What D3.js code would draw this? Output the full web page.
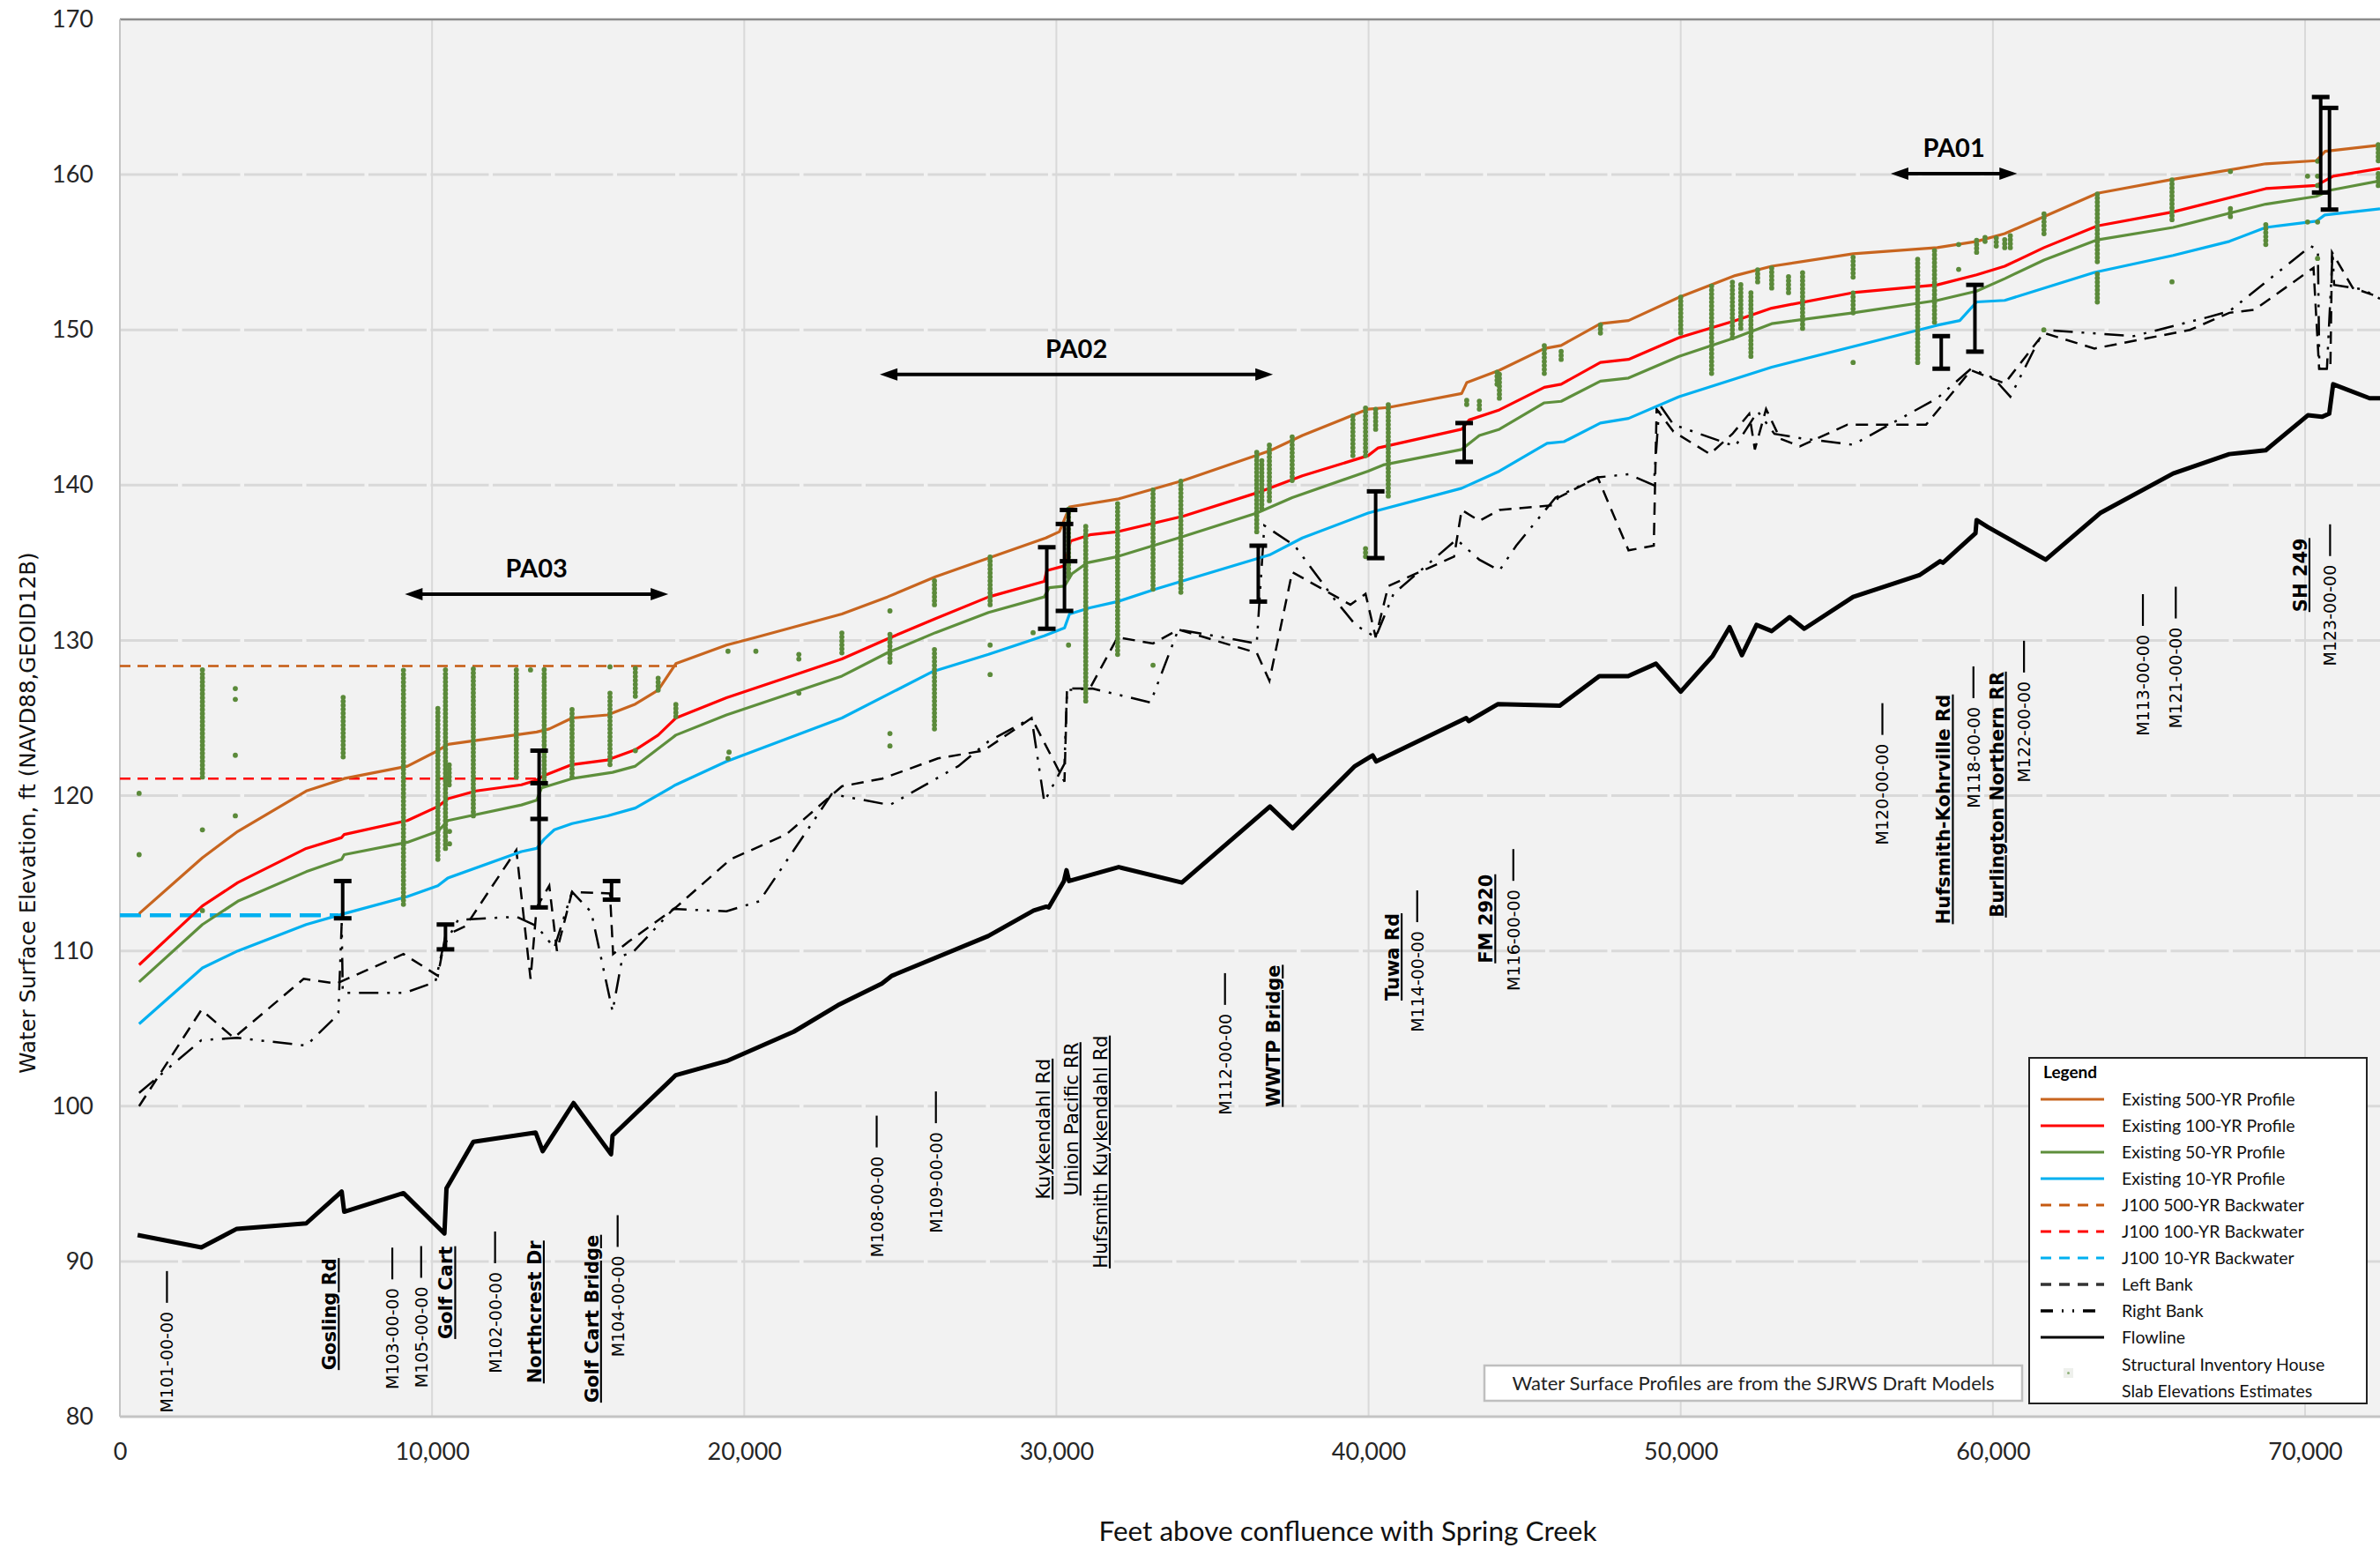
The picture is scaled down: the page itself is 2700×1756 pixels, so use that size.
<!DOCTYPE html>
<html>
<head>
<meta charset="utf-8">
<script src="https://cdn.jsdelivr.net/npm/d3@7"></script>
<style>
  body { margin: 0; background: #fff; }
  svg { display: block; }
</style>
</head>
<body>
<svg id="chart"></svg>
<script>
// water surface profiles: [feet, elevation]
const profile500 = [[616,112.4],[2644,116.0],[3779,117.7],[5969,120.3],[7186,121.1],[9213,121.9],[10186,122.9],[10511,123.3],[13349,124.1],[13755,124.3],[14485,125.0],[15620,125.2],[16512,125.9],[17243,126.8],[17810,128.5],[19432,129.7],[20373,130.2],[23128,131.7],[24587,132.8],[26126,134.1],[27828,135.3],[29660,136.6],[30097,137.0],[30421,138.6],[31961,139.1],[34068,140.3],[36823,142.2],[37877,143.2],[39984,144.9],[40632,145.0],[42982,145.9],[43144,146.6],[44191,147.4],[45630,148.8],[46169,149.0],[47428,150.4],[48327,150.6],[49946,152.1],[51745,153.5],[52914,154.1],[55522,154.9],[58219,155.3],[59478,155.7],[60378,156.2],[61637,157.3],[63345,158.8],[65773,159.7],[68741,160.7],[70360,160.9],[70645,161.5],[72400,161.9]];
const profile100 = [[616,109.1],[2644,112.9],[3779,114.4],[5969,116.6],[7105,117.3],[7186,117.5],[9213,118.4],[10186,119.3],[10511,119.8],[11403,120.3],[12863,120.7],[13349,121.0],[13593,121.3],[14485,122.0],[15620,122.3],[16512,122.95],[17243,123.9],[17810,125.0],[19432,126.3],[23128,128.8],[24587,130.1],[26126,131.4],[27828,132.8],[29611,133.8],[29692,134.5],[30259,134.8],[30454,136.4],[31070,136.8],[31961,137.0],[34068,138.0],[36418,139.5],[37877,140.6],[39984,141.9],[40308,142.4],[42982,143.6],[43225,144.2],[44191,144.85],[45630,146.3],[46169,146.5],[47428,147.9],[48327,148.1],[49946,149.5],[51745,150.6],[52914,151.4],[55522,152.4],[58219,152.9],[59478,153.55],[60378,154.1],[61637,155.3],[63345,156.7],[65773,157.6],[68741,159.1],[70360,159.3],[70899,159.9],[72400,160.4]];
const profile50 = [[616,108.0],[2644,111.7],[3779,113.2],[5969,115.1],[7105,115.9],[7186,116.2],[9213,117.0],[10186,117.7],[10511,118.4],[12863,119.4],[13349,119.7],[13511,120.5],[14485,121.1],[15782,121.5],[16512,121.9],[17810,123.9],[19432,125.2],[23128,127.7],[24587,129.2],[26126,130.5],[27828,131.8],[29611,132.8],[29773,133.4],[30259,133.5],[30502,134.3],[30989,135.0],[31961,135.4],[34068,136.7],[36418,138.2],[37553,139.2],[39984,140.9],[40470,141.3],[42982,142.3],[43549,143.2],[44191,143.6],[45630,145.3],[46169,145.4],[47428,146.7],[48327,146.9],[49946,148.3],[51745,149.5],[52914,150.4],[55522,151.1],[58219,151.9],[59478,152.5],[60378,153.3],[61637,154.5],[63345,155.8],[65773,156.6],[68741,158.1],[70360,158.6],[70809,159.0],[72400,159.6]];
const profile10 = [[616,105.3],[2644,108.9],[3779,110.0],[5969,111.7],[7186,112.4],[9213,113.5],[10186,114.2],[10511,114.7],[12863,116.4],[13349,116.6],[13593,117.2],[13917,117.8],[14485,118.2],[15620,118.7],[16512,119.2],[17810,120.7],[19432,122.2],[23128,125.0],[26045,128.0],[27828,129.1],[29611,130.3],[30259,130.8],[30421,131.7],[31070,132.1],[31961,132.5],[33177,133.3],[36823,135.5],[37877,136.6],[39984,138.2],[42982,139.8],[44191,140.9],[45720,142.7],[46259,142.8],[47428,144.0],[48327,144.3],[49946,145.7],[52914,147.6],[58219,150.3],[58939,150.6],[59478,151.8],[60378,151.9],[63255,153.7],[65773,154.8],[67572,155.7],[68741,156.6],[70360,157.0],[70630,157.4],[72400,157.8]];

// J100 backwater: [start ft, end ft, elevation]
const backwater500 = [0, 17900, 128.35];
const backwater100 = [0, 13511, 121.1];
const backwater10 = [0, 7000, 112.3];

const leftBank = [[616,100.0],[2611,106.2],[3650,104.4],[5888,108.2],[6943,107.9],[9084,109.8],[10186,108.4],[10430,111.0],[11079,111.6],[12700,116.5],[13155,108.2],[13350,112.8],[13755,114.2],[14000,110.0],[14485,113.8],[15700,113.7],[15800,109.8],[16300,110.6],[17810,112.8],[19562,115.9],[21345,117.5],[23128,120.6],[24425,121.1],[26207,122.4],[27666,122.9],[29206,125.0],[30259,120.9],[30340,126.9],[31070,126.9],[31961,130.2],[33096,129.8],[33906,130.7],[36418,129.2],[36823,127.4],[37553,134.4],[39417,132.3],[39903,133.0],[40227,130.2],[40632,133.5],[42739,135.4],[42982,138.4],[43549,137.7],[44191,138.4],[45899,138.7],[46079,139.2],[47338,140.5],[48327,135.8],[49137,136.1],[49227,144.9],[49766,143.45],[50935,142.0],[51655,143.3],[52194,144.6],[52374,142.3],[52734,144.9],[53183,143.0],[53813,142.5],[55342,143.9],[57860,143.9],[59299,147.4],[60378,146.55],[61637,149.8],[63255,148.8],[66313,150.0],[67572,151.1],[68381,151.3],[70270,154.0],[70450,147.5],[70810,147.5],[70863,155.0],[71529,152.7],[72400,152.1]];
const rightBank = [[616,100.85],[2611,104.25],[3747,104.4],[5969,103.9],[6861,105.65],[7000,106.0],[7105,111.8],[7140,107.3],[9130,107.3],[10105,108.0],[10349,110.2],[10835,112.0],[12700,112.2],[13349,111.6],[13917,110.2],[14485,113.8],[15100,112.5],[15782,106.1],[16107,109.7],[16430,109.9],[17730,112.7],[19432,112.55],[20487,113.2],[22800,120.1],[24668,119.4],[26856,121.9],[27828,123.5],[29206,125.0],[29611,119.6],[30259,122.05],[30340,126.8],[31151,126.9],[33015,126.0],[33906,130.7],[36418,129.8],[36661,137.4],[37634,136.1],[38850,132.8],[39579,131.0],[40227,130.2],[40800,133.0],[42820,136.5],[43549,135.2],[44191,134.5],[44730,136.1],[45989,139.2],[47338,140.5],[48327,140.7],[49137,140.0],[49317,145.2],[49766,143.9],[51745,142.5],[52464,144.75],[53003,143.3],[53903,143.0],[55522,142.6],[58219,145.6],[59299,147.5],[60018,146.9],[60558,145.7],[61637,150.0],[64514,149.6],[66853,150.8],[67572,151.2],[70180,155.4],[70410,155.15],[70458,147.5],[70700,147.5],[70882,155.0],[70930,152.9],[71870,152.6],[72400,152.0]];
const flowline = [[568,91.7],[2611,90.9],[3747,92.1],[5969,92.45],[7105,94.5],[7186,93.2],[9084,94.4],[10397,91.8],[10462,94.7],[11322,97.7],[13317,98.3],[13544,97.1],[14533,100.2],[15734,96.9],[15782,98.1],[17810,102.0],[19432,102.9],[21590,104.8],[23000,106.5],[24408,107.9],[24733,108.4],[27812,110.95],[29271,112.6],[29676,112.85],[29757,112.8],[30243,114.5],[30324,115.2],[30405,114.5],[31994,115.4],[34019,114.4],[36840,119.3],[37569,117.9],[39562,121.9],[40130,122.6],[40243,122.2],[43128,125.0],[43209,124.8],[44149,125.9],[46126,125.8],[47391,127.7],[48314,127.7],[49206,128.5],[50000,126.7],[51025,129.0],[51565,130.85],[51960,129.05],[52428,131.0],[52914,130.6],[53489,131.5],[53957,130.75],[55522,132.8],[57644,134.2],[58309,135.1],[58399,135.0],[59442,136.9],[59478,137.75],[59838,137.3],[61691,135.2],[63435,138.2],[65773,140.75],[67572,142.0],[68741,142.25],[70090,144.5],[70540,144.4],[70773,144.6],[70899,146.5],[72068,145.6],[72400,145.6]];

// structural inventory slab elevations: stacked columns [ft, low, high] and single points [ft, elev]
const houseStacks = [[2644,121.2,128.3],[7153,122.5,126.4],[9084,113.0,128.3],[10186,115.9,125.8],[10430,116.6,128.3],[10550,120.7,122.0],[11322,118.7,128.3],[12700,121.2,128.3],[13593,120.7,128.2],[14485,121.2,125.7],[15700,122.0,126.6],[16512,126.4,128.3],[17243,126.8,127.6],[17810,125.1,126.1],[23128,129.2,130.5],[24668,128.6,130.4],[26094,132.3,133.9],[26094,124.3,129.5],[27877,132.3,135.6],[30389,134.1,138.5],[30940,126.1,137.5],[31961,129.1,139.0],[33096,133.3,139.8],[33987,133.1,140.3],[36418,137.0,142.2],[36580,138.5,141.8],[36823,139.0,142.6],[37553,140.3,143.2],[39498,141.9,144.5],[39903,141.9,145.0],[39903,135.4,136.1],[40227,143.6,145.0],[40632,139.3,145.2],[43144,145.2,145.5],[43549,144.9,145.5],[44116,146.5,147.3],[44191,145.6,147.2],[45630,147.2,149.0],[46169,148.1,148.8],[47428,149.8,150.5],[50000,149.8,152.2],[50989,147.2,152.9],[51655,149.5,153.2],[51924,150.1,153.1],[52248,148.3,152.4],[52464,153.1,153.9],[52914,152.7,154.0],[53453,152.4,153.5],[53903,150.1,153.9],[55522,153.4,154.7],[55522,151.1,152.4],[57590,147.9,154.7],[58129,150.5,155.3],[59478,155.0,156.0],[59748,155.7,156.0],[60108,155.4,156.0],[60378,155.3,155.9],[60558,155.3,156.1],[61637,156.2,157.5],[63345,154.4,158.9],[63345,151.8,153.7],[65737,157.1,159.7],[67608,157.3,157.9],[68741,155.5,156.8],[72345,160.9,162.0],[72345,159.3,160.3]];
const housePoints = [[616,120.15],[616,116.2],[2644,117.8],[2644,112.6],[3698,126.9],[3698,126.2],[3698,122.6],[3698,118.7],[10560,117.7],[10560,116.9],[13155,128.1],[15700,128.3],[16512,122.9],[19481,129.3],[20373,129.3],[19481,122.4],[19514,122.8],[21750,129.1],[21750,128.8],[21750,126.6],[24668,131.9],[24668,124.0],[24668,123.2],[27877,129.7],[27877,127.8],[29254,130.5],[30389,129.7],[33096,128.4],[55522,147.9],[58903,155.5],[58903,153.9],[61632,150.0],[65737,153.1],[67608,160.2],[70080,159.9],[70080,156.95],[70400,160.87],[70400,159.9],[70400,159.3],[70400,156.95],[70400,154.6]];

// bridge openings: [ft, low chord, high chord]
const bridgeBars = [[7137,112.1,114.5],[10430,110.1,111.7],[13430,118.5,122.9],[13430,112.8,120.8],[15750,113.3,114.5],[29692,130.75,136.0],[30259,131.9,137.5],[30390,135.1,138.4],[36467,132.5,136.1],[40227,135.3,139.6],[43063,141.5,144.0],[58345,147.5,149.6],[59424,148.6,152.9],[70500,158.85,165.0],[70782,157.75,164.3]];

// project areas: [name, start ft, end ft, elevation]
const projectAreas = [["PA03",9132,17567,132.98],["PA02",24344,36937,147.13],["PA01",56727,60773,160.07]];

// cross section ids: [name, ft, elevation at text start]
const sectionLabels = [["M101-00-00",1508,80.25],["M103-00-00",8727,81.76],["M105-00-00",9651,81.86],["M102-00-00",12019,82.8],["M104-00-00",15945,83.85],["M108-00-00",24243,90.26],["M109-00-00",26140,91.82],["M112-00-00",35401,99.44],["M114-00-00",41558,104.77],["M116-00-00",44637,107.43],["M120-00-00",56460,116.83],["M118-00-00",59376,119.2],["M122-00-00",60996,120.85],["M113-00-00",64805,123.85],["M121-00-00",65858,124.33],["M123-00-00",70801,128.35]];
// crossings: [name, ft, elevation at text start, bold]
const crossingLabels = [["Gosling Rd",6700,83.0,true],["Golf Cart",10430,85.0,true],["Northcrest Dr",13268,82.14,true],["Golf Cart Bridge",15101,80.9,true],["Kuykendahl Rd",29566,93.99,false],["Union Pacific RR",30458,94.24,false],["Hufsmith Kuykendahl Rd",31398,89.55,false],["WWTP Bridge",36939,99.95,true],["Tuwa Rd",40748,106.8,true],["FM 2920",43747,109.2,true],["Hufsmith-Kohrville Rd",58405,111.72,true],["Burlington Northern RR",60104,112.15,true],["SH 249",69828,131.83,true]];

const xTicks = [0,10000,20000,30000,40000,50000,60000,70000];
const yTicks = [80,90,100,110,120,130,140,150,160,170];
const legendNames = ["Existing 500-YR Profile","Existing 100-YR Profile","Existing 50-YR Profile","Existing 10-YR Profile","J100 500-YR Backwater","J100 100-YR Backwater","J100 10-YR Backwater","Left Bank","Right Bank","Flowline"];

const W = 2700, H = 1756;
const plot = { left: 136, right: 2700, top: 22, bottom: 1607 };

const svg = d3.select("#chart").attr("width", W).attr("height", H)
  .style("font-family", "Lato, 'DejaVu Sans', sans-serif");

const x = d3.scaleLinear().domain([0, 72400]).range([plot.left, plot.right]);
const y = d3.scaleLinear().domain([80, 170]).range([plot.bottom, plot.top]);

svg.append("rect").attr("width", W).attr("height", H).attr("fill", "#fff");
svg.append("rect")
  .attr("x", plot.left).attr("y", plot.top)
  .attr("width", plot.right - plot.left).attr("height", plot.bottom - plot.top)
  .attr("fill", "#f2f2f2");

svg.append("defs").append("clipPath").attr("id", "clip")
  .append("rect")
  .attr("x", plot.left).attr("y", plot.top)
  .attr("width", plot.right - plot.left).attr("height", plot.bottom - plot.top);

// grid
const grid = svg.append("g");
grid.selectAll(".hg").data(yTicks.filter(d => d > 80 && d < 170)).enter()
  .append("line")
  .attr("x1", plot.left).attr("x2", plot.right)
  .attr("y1", d => y(d)).attr("y2", d => y(d))
  .attr("stroke", "#d9d9d9").attr("stroke-width", 3)
  .attr("stroke-dasharray", "66,4.5");
grid.selectAll(".vg").data(xTicks.filter(d => d > 0)).enter()
  .append("line")
  .attr("x1", d => x(d)).attr("x2", d => x(d))
  .attr("y1", plot.top).attr("y2", plot.bottom)
  .attr("stroke", "#d9d9d9").attr("stroke-width", 2);

// frame
svg.append("line").attr("x1", plot.left).attr("x2", plot.right)
  .attr("y1", plot.top).attr("y2", plot.top).attr("stroke", "#8c8c8c").attr("stroke-width", 2.5);
svg.append("line").attr("x1", plot.left).attr("x2", plot.left)
  .attr("y1", plot.top).attr("y2", plot.bottom).attr("stroke", "#c4c4c4").attr("stroke-width", 2);
svg.append("line").attr("x1", plot.left).attr("x2", plot.right)
  .attr("y1", plot.bottom).attr("y2", plot.bottom).attr("stroke", "#c4c4c4").attr("stroke-width", 3);

// axes
const yAxis = d3.axisLeft(y).tickValues(yTicks).tickSize(0).tickPadding(0);
svg.append("g").attr("transform", `translate(${plot.left - 30},0)`).call(yAxis)
  .call(g => g.select(".domain").remove())
  .selectAll("text").attr("font-size", 27).attr("fill", "#262626")
  .attr("font-family", "Lato, sans-serif");

const xAxis = d3.axisBottom(x).tickValues(xTicks).tickSize(0).tickPadding(0).tickFormat(d3.format(","));
svg.append("g").attr("transform", `translate(0,${plot.bottom + 30})`).call(xAxis)
  .call(g => g.select(".domain").remove())
  .selectAll("text").attr("font-size", 27).attr("fill", "#262626")
  .attr("font-family", "Lato, sans-serif");

svg.append("text")
  .attr("transform", "translate(31,922) rotate(-90)")
  .attr("text-anchor", "middle").attr("dy", "0.35em")
  .attr("font-family", "'DejaVu Sans', sans-serif").attr("font-size", 24.5).attr("fill", "#111")
  .text("Water Surface Elevation, ft (NAVD88,GEOID12B)");

svg.append("text")
  .attr("x", 1529).attr("y", 1748)
  .attr("text-anchor", "middle")
  .attr("font-size", 31.5).attr("fill", "#111")
  .text("Feet above confluence with Spring Creek");

const body = svg.append("g").attr("clip-path", "url(#clip)");
const line = d3.line().x(d => x(d[0])).y(d => y(d[1]));

// backwater lines
const bwStyles = [
  { d: backwater500, color: "#c55a11", w: 2.5, dash: "12,8" },
  { d: backwater100, color: "#ff0000", w: 2.5, dash: "12,8" },
  { d: backwater10, color: "#00b0f0", w: 4.5, dash: "24,10" }
];
bwStyles.forEach(s => {
  body.append("line")
    .attr("x1", x(s.d[0])).attr("x2", x(s.d[1]))
    .attr("y1", y(s.d[2])).attr("y2", y(s.d[2]))
    .attr("stroke", s.color).attr("stroke-width", s.w).attr("stroke-dasharray", s.dash);
});

// banks
body.append("path").datum(leftBank).attr("d", line)
  .attr("fill", "none").attr("stroke", "#000").attr("stroke-width", 2.5)
  .attr("stroke-dasharray", "14,9");
body.append("path").datum(rightBank).attr("d", line)
  .attr("fill", "none").attr("stroke", "#000").attr("stroke-width", 2.5)
  .attr("stroke-dasharray", "22,10,3,10,3,10");

// profiles
const profiles = [
  { d: profile500, color: "#c8651f" },
  { d: profile100, color: "#ff0000" },
  { d: profile50, color: "#5e8f3c" },
  { d: profile10, color: "#00b0f0" }
];
profiles.forEach(p => {
  body.append("path").datum(p.d).attr("d", line)
    .attr("fill", "none").attr("stroke", p.color).attr("stroke-width", 3.2)
    .attr("stroke-linejoin", "round");
});

body.append("path").datum(flowline).attr("d", line)
  .attr("fill", "none").attr("stroke", "#000").attr("stroke-width", 5)
  .attr("stroke-linejoin", "round");

// structural inventory
body.selectAll(".stack").data(houseStacks).enter().append("line")
  .attr("x1", d => x(d[0])).attr("x2", d => x(d[0]))
  .attr("y1", d => y(d[1])).attr("y2", d => y(d[2]))
  .attr("stroke", "#5b8a3a").attr("stroke-width", 5.8)
  .attr("stroke-linecap", "round").attr("stroke-dasharray", "0,4.5");
body.selectAll(".pt").data(housePoints).enter().append("circle")
  .attr("cx", d => x(d[0])).attr("cy", d => y(d[1])).attr("r", 2.9)
  .attr("fill", "#5b8a3a");

// bridge openings
const bars = body.selectAll(".bar").data(bridgeBars).enter().append("g");
bars.append("line")
  .attr("x1", d => x(d[0])).attr("x2", d => x(d[0]))
  .attr("y1", d => y(d[1])).attr("y2", d => y(d[2]))
  .attr("stroke", "#000").attr("stroke-width", 4);
[1, 2].forEach(i => {
  bars.append("line")
    .attr("x1", d => x(d[0]) - 10).attr("x2", d => x(d[0]) + 10)
    .attr("y1", d => y(d[i])).attr("y2", d => y(d[i]))
    .attr("stroke", "#000").attr("stroke-width", 5);
});

// project area arrows
projectAreas.forEach(([name, a, b, elev]) => {
  const x0 = x(a), x1 = x(b), yy = y(elev);
  svg.append("line").attr("x1", x0 + 14).attr("x2", x1 - 14)
    .attr("y1", yy).attr("y2", yy).attr("stroke", "#000").attr("stroke-width", 4);
  svg.append("path").attr("d", `M${x0},${yy}L${x0 + 20},${yy - 7}L${x0 + 20},${yy + 7}Z`).attr("fill", "#000");
  svg.append("path").attr("d", `M${x1},${yy}L${x1 - 20},${yy - 7}L${x1 - 20},${yy + 7}Z`).attr("fill", "#000");
  svg.append("text").attr("x", (x0 + x1) / 2).attr("y", yy - 19)
    .attr("text-anchor", "middle").attr("font-weight", 700).attr("font-size", 29)
    .attr("fill", "#000").text(name);
});

// cross section labels with tick
sectionLabels.forEach(([name, ft, elev]) => {
  const cx = x(ft), by = y(elev);
  const t = svg.append("text")
    .attr("transform", `translate(${cx + 7},${by}) rotate(-90)`)
    .attr("font-family", "'DejaVu Sans', sans-serif").attr("font-size", 19)
    .attr("fill", "#000").text(name);
  const len = t.node().getComputedTextLength();
  svg.append("line").attr("x1", cx).attr("x2", cx)
    .attr("y1", by - len - 10).attr("y2", by - len - 46)
    .attr("stroke", "#000").attr("stroke-width", 2.2);
});

crossingLabels.forEach(([name, ft, elev, bold]) => {
  svg.append("text")
    .attr("transform", `translate(${x(ft) + 8},${y(elev)}) rotate(-90)`)
    .attr("font-family", "'DejaVu Sans', sans-serif").attr("font-size", bold ? 21 : 21.5)
    .attr("font-weight", bold ? 700 : 400)
    .attr("text-decoration", "underline")
    .attr("fill", "#000").text(name);
});

// note box
svg.append("rect").attr("x", 1684).attr("y", 1549).attr("width", 610).attr("height", 40)
  .attr("fill", "#fff").attr("stroke", "#bfbfbf").attr("stroke-width", 2.5);
svg.append("text").attr("x", 1989).attr("y", 1569).attr("dy", "0.35em")
  .attr("text-anchor", "middle").attr("font-size", 22).attr("fill", "#222")
  .text("Water Surface Profiles are from the SJRWS Draft Models");

// legend
const legend = svg.append("g");
legend.append("rect").attr("x", 2302).attr("y", 1200).attr("width", 383).attr("height", 392)
  .attr("fill", "#fff").attr("stroke", "#222").attr("stroke-width", 2);
legend.append("text").attr("x", 2318).attr("y", 1223)
  .attr("font-weight", 700).attr("font-size", 19).attr("fill", "#000").text("Legend");

const legendStyles = [
  { color: "#c8651f", w: 3, dash: null },
  { color: "#ff0000", w: 3, dash: null },
  { color: "#5e8f3c", w: 3, dash: null },
  { color: "#00b0f0", w: 3, dash: null },
  { color: "#c55a11", w: 3, dash: "12,9" },
  { color: "#ff0000", w: 3, dash: "12,9" },
  { color: "#00b0f0", w: 3, dash: "12,9" },
  { color: "#333", w: 3.5, dash: "12,9" },
  { color: "#000", w: 3.5, dash: "14,10,2,10,2,10" },
  { color: "#000", w: 3, dash: null }
];
legendNames.forEach((name, i) => {
  const yy = 1247 + i * 30;
  legend.append("line").attr("x1", 2315).attr("x2", 2387).attr("y1", yy).attr("y2", yy)
    .attr("stroke", legendStyles[i].color).attr("stroke-width", legendStyles[i].w)
    .attr("stroke-dasharray", legendStyles[i].dash);
  legend.append("text").attr("x", 2407).attr("y", yy).attr("dy", "0.35em")
    .attr("font-size", 19.5).attr("fill", "#111").text(name);
});
legend.append("rect").attr("x", 2341).attr("y", 1552).attr("width", 11).attr("height", 11)
  .attr("fill", "#eef0ec");
legend.append("circle").attr("cx", 2346.5).attr("cy", 1557.5).attr("r", 1.5).attr("fill", "#8fb07a");
legend.append("text").attr("x", 2407).attr("y", 1548).attr("dy", "0.35em")
  .attr("font-size", 19.5).attr("fill", "#111").text("Structural  Inventory House");
legend.append("text").attr("x", 2407).attr("y", 1578).attr("dy", "0.35em")
  .attr("font-size", 19.5).attr("fill", "#111").text("Slab Elevations Estimates");
</script>
</body>
</html>
